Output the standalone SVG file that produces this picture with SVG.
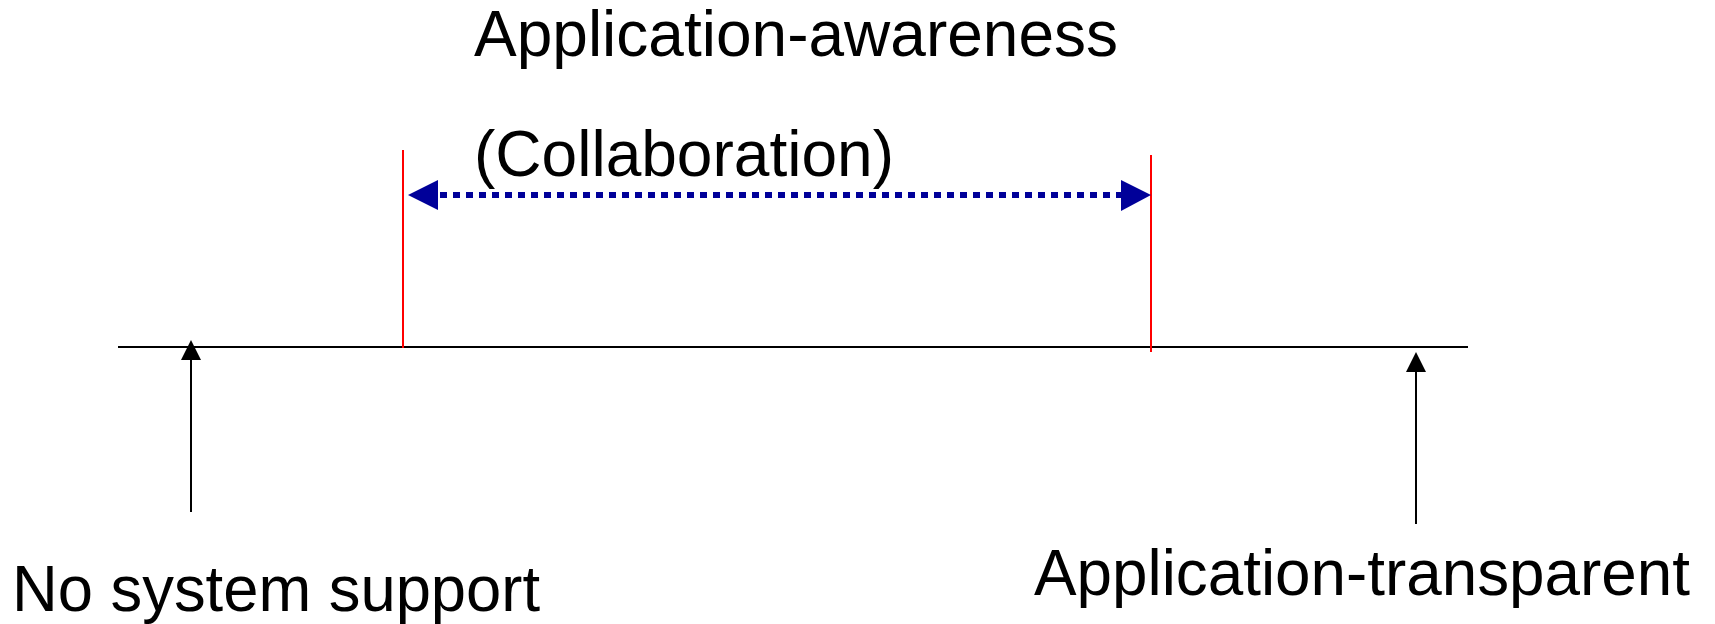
<svg xmlns="http://www.w3.org/2000/svg" width="1715" height="624" viewBox="0 0 1715 624">
<style>
text{font-family:"Liberation Sans",Arial,sans-serif;font-size:65px;fill:#000}
.blk{stroke:#000;stroke-width:2;fill:none}
.red{stroke:#FF0000;stroke-width:2;fill:none}
.dot{stroke:#000099;stroke-width:6;stroke-dasharray:7 6;fill:none}
.nv{fill:#000099}
.ah{fill:#000}
</style>
<rect width="1715" height="624" fill="#fff"/>
<g id="axis">
<line class="blk" x1="118" y1="347" x2="1468" y2="347"/>
</g>
<g id="left-bound"><line class="red" x1="403" y1="150" x2="403" y2="348"/></g>
<g id="right-bound"><line class="red" x1="1151" y1="155" x2="1151" y2="352"/></g>
<g id="label-awareness">
<text x="474" y="56" textLength="644" lengthAdjust="spacingAndGlyphs">Application-awareness</text>
<text x="474" y="176" textLength="420" lengthAdjust="spacingAndGlyphs">(Collaboration)</text>
</g>
<g id="label-nosupport"><text x="12" y="611" textLength="528" lengthAdjust="spacingAndGlyphs">No system support</text></g>
<g id="label-transparent"><text x="1034" y="595" textLength="656" lengthAdjust="spacingAndGlyphs">Application-transparent</text></g>
<g id="connectors">
<line class="dot" x1="440" y1="195" x2="1122" y2="195"/>
<polygon class="nv" points="408,195 438,180 438,210"/>
<polygon class="nv" points="1151,195 1121,180 1121,211"/>
<line class="blk" x1="191" y1="358" x2="191" y2="512"/>
<polygon class="ah" points="191,340 181,360 201,360"/>
<line class="blk" x1="1416" y1="370" x2="1416" y2="524"/>
<polygon class="ah" points="1416,352 1406,372 1426,372"/>
</g>
</svg>
